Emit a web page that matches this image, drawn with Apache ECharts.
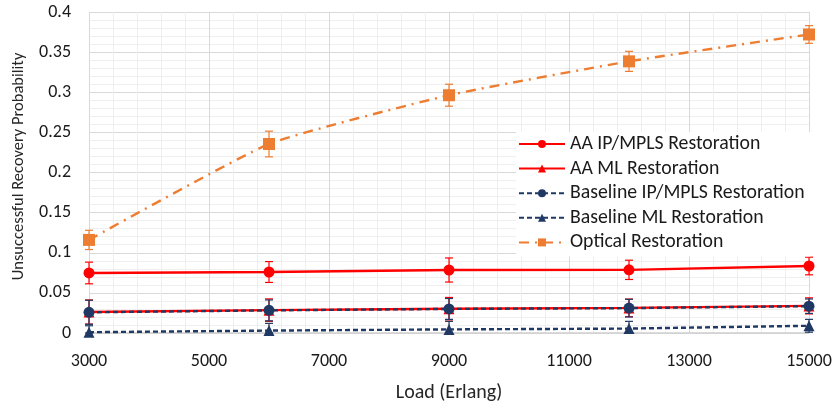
<!DOCTYPE html>
<html>
<head>
<meta charset="utf-8">
<script src="https://cdn.jsdelivr.net/npm/echarts@6/dist/echarts.min.js"></script>
<style>
  html, body { margin: 0; padding: 0; background: #fff; }
  #chart { width: 837px; height: 405px; }
</style>
</head>
<body>
<div id="chart"></div>
<script>
// load values (Erlang)
const loads = [3000, 6000, 9000, 12000, 15000]

// series values
const aaIpMpls = [0.0748, 0.076, 0.0785, 0.0787, 0.0835]
const aaMl = [0.0262, 0.0285, 0.0303, 0.0313, 0.0338]
const baseIpMpls = [0.0258, 0.0282, 0.0300, 0.0310, 0.0334]
const baseMl = [0.001, 0.003, 0.0045, 0.0055, 0.009]
const optical = [0.116, 0.2355, 0.2963, 0.3385, 0.372]

// error bar half widths
const aaIpMplsErr = [0.0135, 0.013, 0.015, 0.012, 0.011]
const aaMlErr = [0.015, 0.014, 0.014, 0.011, 0.010]
const baseIpMplsErr = [0.015, 0.013, 0.013, 0.011, 0.009]
const baseMlErr = [0.008, 0.009, 0.010, 0.009, 0.008]
const opticalErr = [0.012, 0.016, 0.0137, 0.0125, 0.011]

const xTicks = [3000, 5000, 7000, 9000, 11000, 13000, 15000]
const yTicks = [0, 0.05, 0.1, 0.15, 0.2, 0.25, 0.3, 0.35, 0.4]

const RED = '#ff0000'
const NAVY = '#203864'
const ORANGE = '#ed7d31'
const FONT = 'Carlito, Lato, sans-serif'

function pairs(vals) {
  return loads.map((x, i) => [x, vals[i]])
}

function errData(vals, errs) {
  return loads.map((x, i) => [x, Math.max(0, vals[i] - errs[i]), vals[i] + errs[i]])
}

function errSeries(name, vals, errs, color) {
  return {
    name: name + ' err',
    type: 'custom',
    data: errData(vals, errs),
    z: 1,
    renderItem: function (params, api) {
      const x = api.value(0)
      const lo = api.coord([x, api.value(1)])
      const hi = api.coord([x, api.value(2)])
      const w = 4
      const st = { stroke: color, lineWidth: 1.2 }
      return {
        type: 'group',
        children: [
          { type: 'line', shape: { x1: lo[0], y1: lo[1], x2: hi[0], y2: hi[1] }, style: st },
          { type: 'line', shape: { x1: lo[0] - w, y1: lo[1], x2: lo[0] + w, y2: lo[1] }, style: st },
          { type: 'line', shape: { x1: hi[0] - w, y1: hi[1], x2: hi[0] + w, y2: hi[1] }, style: st }
        ]
      }
    }
  }
}

function lineSeries(name, vals, color, symbol, size, type, smooth) {
  return {
    name: name,
    type: 'line',
    data: pairs(vals),
    symbol: symbol,
    symbolSize: size,
    smooth: smooth,
    z: 3,
    itemStyle: { color: color },
    lineStyle: { color: color, width: 2.4, type: type }
  }
}

const names = [
  'AA IP/MPLS Restoration',
  'AA ML Restoration',
  'Baseline IP/MPLS Restoration',
  'Baseline ML Restoration',
  'Optical Restoration'
]

const chart = echarts.init(document.getElementById('chart'))

const option = {
  animation: false,
  textStyle: { fontFamily: FONT },
  grid: { left: 89, right: 28, top: 12, bottom: 72, outerBoundsMode: 'none' },
  legend: {
    data: names,
    orient: 'vertical',
    left: 516,
    top: 132,
    itemWidth: 46,
    itemHeight: 10,
    itemGap: 4.6,
    padding: [2, 6, 4, 2],
    backgroundColor: '#ffffff',
    textStyle: { fontFamily: FONT, fontSize: 19.8, color: '#1a1a1a' }
  },
  xAxis: {
    type: 'value',
    min: 3000,
    max: 15000,
    interval: 2000,
    name: 'Load (Erlang)',
    nameLocation: 'middle',
    nameGap: 50,
    nameTextStyle: { fontFamily: FONT, fontSize: 20, color: '#262626' },
    axisLine: { show: true, onZero: false, lineStyle: { color: '#d0d0d0', width: 1.5 } },
    axisTick: { show: false },
    axisLabel: { fontFamily: FONT, fontSize: 18, color: '#1a1a1a', margin: 19,
      formatter: v => xTicks.indexOf(v) >= 0 ? String(v) : '' },
    splitLine: { show: true, lineStyle: { color: '#d9d9d9' } },
    minorTick: { show: false, splitNumber: 5 },
    minorSplitLine: { show: true, lineStyle: { color: '#efefef' } }
  },
  yAxis: {
    type: 'value',
    min: 0,
    max: 0.4,
    interval: 0.05,
    name: 'Unsuccessful Recovery Probability',
    nameLocation: 'middle',
    nameGap: 62,
    nameTextStyle: { fontFamily: FONT, fontSize: 16.5, color: '#262626', padding: [0, 0, 0, 12] },
    axisLine: { show: false },
    axisTick: { show: false },
    axisLabel: { fontFamily: FONT, fontSize: 18, color: '#1a1a1a', margin: 18,
      formatter: v => {
        const t = yTicks.find(k => Math.abs(k - v) < 1e-9)
        return t === undefined ? '' : String(t)
      } },
    splitLine: { show: true, lineStyle: { color: '#d9d9d9' } },
    minorTick: { show: false, splitNumber: 5 },
    minorSplitLine: { show: true, lineStyle: { color: '#efefef' } }
  },
  series: [
    errSeries(names[4], optical, opticalErr, ORANGE),
    errSeries(names[0], aaIpMpls, aaIpMplsErr, RED),
    errSeries(names[1], aaMl, aaMlErr, RED),
    errSeries(names[2], baseIpMpls, baseIpMplsErr, NAVY),
    errSeries(names[3], baseMl, baseMlErr, NAVY),
    lineSeries(names[0], aaIpMpls, RED, 'circle', 11, 'solid', false),
    lineSeries(names[1], aaMl, RED, 'triangle', 11, 'solid', false),
    lineSeries(names[2], baseIpMpls, NAVY, 'circle', 11, [5, 3], false),
    lineSeries(names[3], baseMl, NAVY, 'triangle', 11, [5, 3], false),
    lineSeries(names[4], optical, ORANGE, 'rect', 12, [10, 6, 2, 6], 0.15)
  ]
}

chart.setOption(option)
window.addEventListener('resize', () => chart.resize())
</script>
</body>
</html>
